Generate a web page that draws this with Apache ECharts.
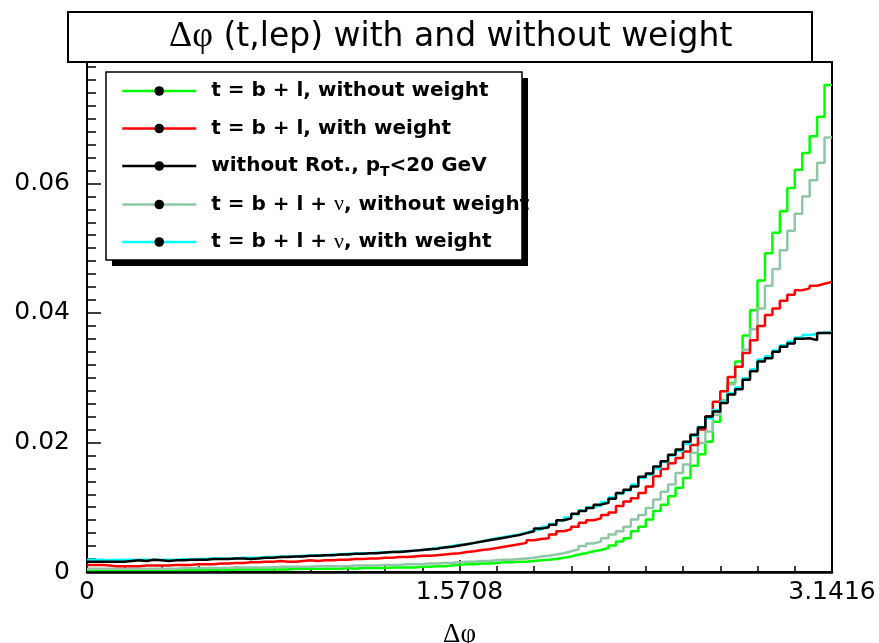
<!DOCTYPE html>
<html>
<head>
<meta charset="utf-8">
<script src="https://cdn.jsdelivr.net/npm/echarts@6/dist/echarts.min.js"></script>
<style>html,body{margin:0;padding:0;background:#fff;}#c{width:879px;height:643px;}</style>
</head>
<body>
<div id="c"></div>
<script>
// ---- data (100 bins from 0 to pi) ----
const nBins = 100;
const xMin = 0;
const xMax = Math.PI;
const yMax = 0.07875;
const seriesNames = ['t = b + l, without weight', 't = b + l, with weight', 'without Rot., p_T<20 GeV', 't = b + l + ν, without weight', 't = b + l + ν, with weight'];
const xTickLabels = ['0', '1.5708', '3.1416'];
const yTickLabels = ['0', '0.02', '0.04', '0.06'];

const greenVals = [
0.0003,0.0003,0.0003,0.0003,0.0003,0.0003,0.0003,0.0003,0.0003,0.0003,
0.0003,0.0003,0.0003,0.0003,0.0003,0.0003,0.0004,0.0003,0.0003,0.0004,
0.0004,0.0004,0.0004,0.0004,0.0004,0.0004,0.0004,0.0005,0.0005,0.0005,
0.0005,0.0005,0.0005,0.0005,0.0006,0.0005,0.0006,0.0006,0.0006,0.0006,
0.0007,0.0007,0.0007,0.0007,0.0008,0.0008,0.0009,0.0009,0.0010,0.0011,
0.0012,0.0012,0.0013,0.0013,0.0014,0.0015,0.0015,0.0016,0.0016,0.0017,
0.0018,0.0019,0.0020,0.0022,0.0024,0.0027,0.0029,0.0032,0.0034,0.0037,
0.0041,0.0047,0.0052,0.0063,0.0070,0.0081,0.0094,0.0104,0.0117,0.0130,
0.0145,0.0164,0.0182,0.0201,0.0232,0.0262,0.0292,0.0325,0.0365,0.0404,
0.0450,0.0492,0.0524,0.0557,0.0593,0.0621,0.0647,0.0673,0.0703,0.0752];

const redVals = [
0.0011,0.0011,0.0010,0.0009,0.0009,0.0009,0.0009,0.0010,0.0010,0.0010,
0.0010,0.0011,0.0011,0.0011,0.0012,0.0012,0.0012,0.0013,0.0013,0.0014,
0.0014,0.0015,0.0015,0.0016,0.0016,0.0017,0.0016,0.0016,0.0017,0.0018,
0.0017,0.0018,0.0018,0.0019,0.0019,0.0020,0.0020,0.0021,0.0021,0.0022,
0.0022,0.0023,0.0023,0.0024,0.0025,0.0025,0.0026,0.0027,0.0028,0.0029,
0.0031,0.0032,0.0034,0.0035,0.0037,0.0039,0.0041,0.0043,0.0045,0.0049,
0.0051,0.0052,0.0058,0.0063,0.0066,0.0070,0.0076,0.0080,0.0083,0.0088,
0.0092,0.0102,0.0109,0.0114,0.0122,0.0132,0.0148,0.0159,0.0168,0.0176,
0.0186,0.0196,0.0220,0.0240,0.0263,0.0279,0.0301,0.0317,0.0338,0.0358,
0.0380,0.0397,0.0407,0.0419,0.0428,0.0435,0.0438,0.0442,0.0445,0.0448];

const blackVals = [
0.0016,0.0016,0.0016,0.0016,0.0016,0.0017,0.0018,0.0017,0.0019,0.0018,
0.0017,0.0018,0.0018,0.0019,0.0019,0.0019,0.0020,0.0020,0.0020,0.0021,
0.0021,0.0020,0.0021,0.0022,0.0022,0.0023,0.0023,0.0024,0.0024,0.0025,
0.0025,0.0026,0.0026,0.0027,0.0027,0.0028,0.0028,0.0029,0.0029,0.0030,
0.0031,0.0031,0.0032,0.0033,0.0034,0.0035,0.0036,0.0038,0.0039,0.0041,
0.0043,0.0045,0.0047,0.0049,0.0051,0.0053,0.0055,0.0057,0.0060,0.0063,
0.0067,0.0069,0.0073,0.0080,0.0083,0.0090,0.0094,0.0099,0.0104,0.0107,
0.0113,0.0122,0.0127,0.0132,0.0147,0.0152,0.0163,0.0171,0.0181,0.0189,
0.0201,0.0212,0.0223,0.0240,0.0248,0.0261,0.0274,0.0282,0.0297,0.0310,
0.0325,0.0330,0.0340,0.0348,0.0353,0.0360,0.0361,0.0358,0.0369,0.0369];

const greyVals = [
0.0005,0.0005,0.0005,0.0005,0.0005,0.0005,0.0005,0.0005,0.0005,0.0005,
0.0005,0.0005,0.0006,0.0006,0.0006,0.0006,0.0006,0.0006,0.0006,0.0007,
0.0007,0.0007,0.0007,0.0007,0.0007,0.0008,0.0008,0.0008,0.0008,0.0008,
0.0009,0.0009,0.0009,0.0009,0.0009,0.0010,0.0010,0.0010,0.0010,0.0011,
0.0011,0.0011,0.0012,0.0012,0.0012,0.0013,0.0013,0.0014,0.0014,0.0015,
0.0016,0.0016,0.0017,0.0017,0.0018,0.0019,0.0019,0.0020,0.0021,0.0022,
0.0024,0.0025,0.0027,0.0029,0.0032,0.0035,0.0040,0.0044,0.0047,0.0052,
0.0058,0.0063,0.0070,0.0081,0.0088,0.0099,0.0112,0.0124,0.0135,0.0153,
0.0166,0.0184,0.0199,0.0217,0.0243,0.0266,0.0290,0.0317,0.0343,0.0375,
0.0407,0.0442,0.0468,0.0497,0.0527,0.0553,0.0580,0.0605,0.0632,0.0671];

const cyanVals = [
0.0019,0.0019,0.0018,0.0019,0.0019,0.0019,0.0019,0.0019,0.0019,0.0019,
0.0019,0.0019,0.0020,0.0019,0.0020,0.0020,0.0021,0.0021,0.0021,0.0021,
0.0022,0.0022,0.0022,0.0023,0.0023,0.0024,0.0024,0.0024,0.0025,0.0025,
0.0026,0.0026,0.0027,0.0027,0.0028,0.0028,0.0029,0.0029,0.0030,0.0030,
0.0031,0.0032,0.0032,0.0033,0.0034,0.0035,0.0037,0.0038,0.0040,0.0042,
0.0043,0.0045,0.0047,0.0050,0.0052,0.0054,0.0056,0.0058,0.0061,0.0064,
0.0066,0.0070,0.0074,0.0079,0.0084,0.0089,0.0095,0.0100,0.0103,0.0108,
0.0115,0.0121,0.0126,0.0135,0.0145,0.0150,0.0160,0.0170,0.0180,0.0187,
0.0198,0.0210,0.0224,0.0237,0.0250,0.0263,0.0276,0.0285,0.0299,0.0313,
0.0328,0.0333,0.0342,0.0350,0.0356,0.0362,0.0366,0.0368,0.0370,0.0370];

const seriesColors = ['#00ff00', '#ff0000', '#000000', '#8fc7a6', '#00ffff'];
const seriesValues = [greenVals, redVals, blackVals, greyVals, cyanVals];
const seriesZ = [2, 3, 5, 2, 4];

// build histogram step data: left edge of each bin, plus closing point at xMax
function histData(vals) {
  const w = (xMax - xMin) / nBins;
  const d = vals.map((v, i) => [xMin + i * w, v]);
  d.push([xMax, vals[vals.length - 1]]);
  return d;
}

const chart = echarts.init(document.getElementById('c'), null, {renderer: 'canvas'});
const sans = 'DejaVu Sans';
const serif = 'Liberation Serif';

const option = {
  animation: false,
  backgroundColor: '#ffffff',
  title: {
    text: '{s|Δφ} (t,lep) with and without weight',
    left: 164,
    top: 14,
    textStyle: {
      fontFamily: sans, fontSize: 33, fontWeight: 'normal', color: '#000',
      rich: { s: { fontFamily: serif, fontSize: 36, color: '#000' } }
    },
    z: 8
  },
  graphic: [
    { type: 'rect', z: 7, shape: { x: 68, y: 12, width: 744, height: 50 },
      style: { fill: '#fff', stroke: '#000', lineWidth: 2 } },
    { type: 'rect', z: 7, shape: { x: 112, y: 78, width: 416, height: 188 },
      style: { fill: '#000' } },
    { type: 'rect', z: 7, shape: { x: 106, y: 72, width: 416, height: 188 },
      style: { fill: '#fff', stroke: '#000', lineWidth: 1.5 } }
  ],
  legend: {
    orient: 'vertical',
    left: 106,
    top: 72,
    padding: [7, 0, 7, 15],
    itemWidth: 74,
    itemHeight: 12,
    itemGap: 13.5,
    z: 9,
    data: seriesNames,
    itemStyle: { color: '#000' },
    lineStyle: { width: 2.5 },
    formatter: function (name) {
      return name.replace('ν', '{nu|ν}').replace('p_T', 'p{sub|T}');
    },
    textStyle: {
      fontFamily: sans, fontWeight: 'bold', fontSize: 20, color: '#000',
      lineHeight: 24, padding: [0, 0, 0, 10],
      rich: {
        nu: { fontFamily: serif, fontWeight: 'normal', fontSize: 22, color: '#000' },
        sub: { fontFamily: sans, fontWeight: 'bold', fontSize: 14, color: '#000', padding: [12, 0, 0, 0] }
      }
    }
  },
  grid: {
    left: 87, right: 47, top: 62, bottom: 71,
    show: true, borderColor: '#000', borderWidth: 2, backgroundColor: 'transparent',
    containLabel: false,
    outerBoundsMode: 'none'
  },
  xAxis: {
    type: 'value',
    min: xMin, max: xMax, interval: Math.PI / 2,
    name: 'Δφ', nameLocation: 'middle', nameGap: 49,
    nameTextStyle: { fontFamily: serif, fontSize: 27, color: '#000' },
    axisLine: { show: true, lineStyle: { color: '#000', width: 2.5 } },
    axisTick: { show: true, inside: true, length: 12, lineStyle: { color: '#000', width: 1.5 } },
    minorTick: { show: true, splitNumber: 10, length: 6, lineStyle: { color: '#000', width: 1.5 } },
    splitLine: { show: false },
    axisLabel: {
      fontFamily: sans, fontSize: 25, color: '#000', margin: 8,
      showMinLabel: true, showMaxLabel: true,
      formatter: function (v) {
        const idx = Math.round(v / (Math.PI / 2));
        return xTickLabels[idx] !== undefined ? xTickLabels[idx] : '';
      }
    }
  },
  yAxis: [
    {
      type: 'value', min: 0, max: yMax, interval: 0.02, position: 'left',
      axisLine: { show: true, lineStyle: { color: '#000', width: 2 } },
      axisTick: { show: true, inside: true, length: 14, lineStyle: { color: '#000', width: 1.5 } },
      splitLine: { show: false },
      axisLabel: {
        fontFamily: sans, fontSize: 25, color: '#000', margin: 17,
        showMaxLabel: false,
        formatter: function (v) {
          const idx = Math.round(v / 0.02);
          if (Math.abs(v - idx * 0.02) > 1e-9) return '';
          return yTickLabels[idx] !== undefined ? yTickLabels[idx] : '';
        }
      }
    },
    {
      type: 'value', min: 0, max: yMax, interval: 0.002, position: 'left', offset: 0,
      axisLine: { show: false },
      axisTick: { show: true, inside: true, length: 9, lineStyle: { color: '#000', width: 1.5 } },
      splitLine: { show: false },
      axisLabel: { show: false }
    }
  ],
  series: seriesNames.map((name, i) => ({
    name: name,
    type: 'line',
    step: 'end',
    yAxisIndex: 0,
    data: histData(seriesValues[i]),
    showSymbol: false,
    symbol: 'circle',
    symbolSize: 8,
    color: seriesColors[i],
    lineStyle: { color: seriesColors[i], width: 2.5 },
    z: seriesZ[i]
  }))
};
chart.setOption(option);
</script>
</body>
</html>
